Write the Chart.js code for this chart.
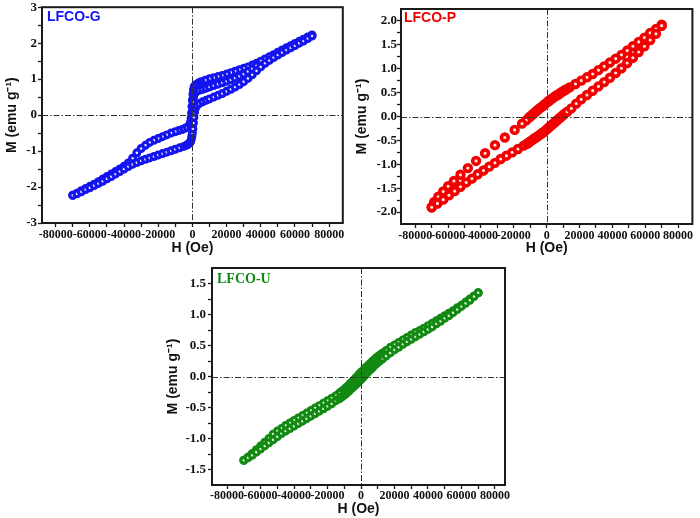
<!DOCTYPE html>
<html>
<head>
<meta charset="utf-8">
<script src="https://cdn.jsdelivr.net/npm/chart.js@4.4.0/dist/chart.umd.min.js"></script>
<style>
html, body { margin: 0; padding: 0; background: #fff; overflow: hidden; }
#wrap { position: relative; width: 700px; height: 518px; }
#wrap canvas { position: absolute; }
</style>
</head>
<body>
<div id="wrap">
  <canvas id="chartG" width="350" height="258" style="left:0;top:0;width:350px;height:258px"></canvas>
  <canvas id="chartP" width="350" height="258" style="left:350px;top:0;width:350px;height:258px"></canvas>
  <canvas id="chartU" width="380" height="260" style="left:160px;top:258px;width:380px;height:260px"></canvas>
</div>
<script>
'use strict';

// ---- tick values / labels ----
var hTicksMajor = [-80000, -60000, -40000, -20000, 0, 20000, 40000, 60000, 80000];
var hTicksMinor = [-70000, -50000, -30000, -10000, 10000, 30000, 50000, 70000];
var mTicksMajorG = [-3, -2, -1, 0, 1, 2, 3];
var mTicksMinorG = [-2.5, -1.5, -0.5, 0.5, 1.5, 2.5];
var mTicksMajorP = [-2.0, -1.5, -1.0, -0.5, 0.0, 0.5, 1.0, 1.5, 2.0];
var mTicksMinorP = [-1.75, -1.25, -0.75, -0.25, 0.25, 0.75, 1.25, 1.75];
var mTicksMajorU = [-1.5, -1.0, -0.5, 0.0, 0.5, 1.0, 1.5];
var mTicksMinorU = [-1.25, -0.75, -0.25, 0.25, 0.75, 1.25];

// ---- LFCO-G (blue) ----
var fieldG_down = [70000, 67500, 65000, 62500, 60000, 57500, 55000, 52500, 50000, 47500, 45000, 42500, 40000, 37500, 35000, 32500, 30000, 27500, 25000, 22500, 20000, 17500, 15000, 12500, 10000, 7500, 5000, 3500, 2500, 1500, 1000, 600, 300, 0, -250, -500, -750, -1000, -1500, -2500, -4000, -6000, -8000, -10000, -12500, -15000, -17500, -20000, -22500, -25000, -27500, -30000, -32500, -35000, -37500, -40000, -42500, -45000, -47500, -50000, -52500, -55000, -57500, -60000, -62500, -65000, -67500, -70000];
var momentG_down = [2.23, 2.17, 2.11, 2.05, 1.99, 1.93, 1.87, 1.81, 1.75, 1.68, 1.62, 1.56, 1.50, 1.44, 1.39, 1.34, 1.30, 1.26, 1.22, 1.18, 1.14, 1.10, 1.07, 1.04, 1.01, 0.97, 0.93, 0.89, 0.86, 0.82, 0.78, 0.70, 0.58, 0.42, 0.24, 0.06, -0.08, -0.18, -0.26, -0.32, -0.36, -0.40, -0.43, -0.46, -0.50, -0.55, -0.60, -0.65, -0.70, -0.76, -0.84, -0.93, -1.05, -1.20, -1.33, -1.42, -1.50, -1.57, -1.64, -1.71, -1.78, -1.85, -1.92, -1.98, -2.04, -2.10, -2.17, -2.23];
var fieldG_up = [-70000, -67500, -65000, -62500, -60000, -57500, -55000, -52500, -50000, -47500, -45000, -42500, -40000, -37500, -35000, -32500, -30000, -27500, -25000, -22500, -20000, -17500, -15000, -12500, -10000, -7500, -5000, -3500, -2500, -1500, -1000, -600, -300, 0, 300, 600, 900, 1200, 1600, 2500, 4000, 6000, 8000, 10000, 12500, 15000, 17500, 20000, 22500, 25000, 27500, 30000, 32500, 35000, 37500, 40000, 42500, 45000, 47500, 50000, 52500, 55000, 57500, 60000, 62500, 65000, 67500, 70000];
var momentG_up = [-2.23, -2.19, -2.13, -2.07, -2.02, -1.96, -1.90, -1.84, -1.77, -1.71, -1.64, -1.57, -1.50, -1.43, -1.37, -1.32, -1.27, -1.23, -1.19, -1.15, -1.11, -1.07, -1.03, -0.99, -0.95, -0.91, -0.87, -0.84, -0.81, -0.77, -0.73, -0.66, -0.58, -0.50, -0.38, -0.22, -0.06, 0.08, 0.18, 0.26, 0.32, 0.37, 0.41, 0.45, 0.50, 0.55, 0.60, 0.66, 0.72, 0.78, 0.85, 0.93, 1.02, 1.12, 1.23, 1.34, 1.44, 1.52, 1.60, 1.67, 1.74, 1.81, 1.87, 1.93, 2.00, 2.06, 2.13, 2.20];
var fieldG_virgin = [0, 200, 400, 700, 1000, 1500, 2500, 4000, 6000, 8000, 10000, 12500, 15000, 17500, 20000, 22500, 25000, 27500, 30000, 32500, 35000, 37500];
var momentG_virgin = [0.00, 0.18, 0.36, 0.50, 0.57, 0.62, 0.66, 0.69, 0.72, 0.75, 0.78, 0.82, 0.86, 0.90, 0.94, 0.98, 1.03, 1.08, 1.14, 1.21, 1.29, 1.37];

// ---- LFCO-P (red) ----
var fieldP_down = [70000, 66500, 63000, 59500, 56000, 52500, 49000, 45500, 42000, 38500, 35000, 31500, 28000, 24500, 21000, 17500, 14000, 12000, 11000, 10000, 9000, 8000, 7000, 6000, 5000, 4000, 3000, 2000, 1000, 0, -1000, -2000, -3000, -4000, -5000, -6000, -7000, -8000, -9000, -10000, -11000, -12500, -15000, -19500, -25500, -31500, -37500, -43000, -48000, -52500, -56500, -60000, -63000, -66000, -68500, -70000];
var momentP_down = [1.92, 1.83, 1.75, 1.65, 1.56, 1.47, 1.38, 1.29, 1.21, 1.13, 1.05, 0.97, 0.89, 0.82, 0.75, 0.68, 0.61, 0.57, 0.55, 0.53, 0.51, 0.48, 0.46, 0.44, 0.42, 0.39, 0.37, 0.34, 0.32, 0.29, 0.26, 0.23, 0.20, 0.18, 0.15, 0.12, 0.09, 0.06, 0.03, 0.00, -0.03, -0.08, -0.15, -0.28, -0.44, -0.60, -0.77, -0.93, -1.08, -1.22, -1.35, -1.46, -1.57, -1.68, -1.79, -1.90];
var fieldP_up = [-70000, -66500, -63000, -59500, -56000, -52500, -49000, -45500, -42000, -38500, -35000, -31500, -28000, -24500, -21000, -17500, -14000, -12000, -11000, -10000, -9000, -8000, -7000, -6000, -5000, -4000, -3000, -2000, -1000, 0, 1000, 2000, 3000, 4000, 5000, 6000, 7000, 8000, 9000, 10000, 11000, 12500, 15000, 18000, 21000, 24500, 28000, 31500, 35000, 38500, 42000, 45500, 49000, 52500, 56000, 59500, 63000, 66500, 70000];
var momentP_up = [-1.90, -1.82, -1.74, -1.65, -1.56, -1.47, -1.38, -1.30, -1.21, -1.13, -1.05, -0.97, -0.89, -0.82, -0.75, -0.68, -0.61, -0.57, -0.55, -0.52, -0.50, -0.47, -0.45, -0.43, -0.40, -0.38, -0.35, -0.33, -0.30, -0.27, -0.24, -0.21, -0.18, -0.15, -0.12, -0.09, -0.06, -0.03, 0.00, 0.03, 0.06, 0.10, 0.17, 0.27, 0.36, 0.45, 0.54, 0.63, 0.72, 0.81, 0.91, 1.01, 1.12, 1.23, 1.35, 1.47, 1.60, 1.73, 1.90];

// ---- LFCO-U (green) ----
var fieldU_down = [70000, 67500, 65000, 62500, 60000, 57500, 55000, 52500, 50000, 47500, 45000, 42500, 40000, 37500, 35000, 32500, 30000, 27500, 25000, 22500, 20000, 17500, 15000, 13000, 12000, 11000, 10000, 9000, 8000, 7000, 6000, 5000, 4000, 3000, 2000, 1000, 0, -1000, -2000, -3000, -4000, -5000, -6000, -7000, -8000, -9000, -10000, -11000, -12000, -13000, -15000, -17500, -20000, -22500, -25000, -27500, -30000, -32500, -35000, -37500, -40000, -42500, -45000, -47500, -50000, -52500, -55000, -57500, -60000, -62500, -65000, -67500, -70000];
var momentU_down = [1.35, 1.30, 1.25, 1.20, 1.15, 1.11, 1.06, 1.02, 0.98, 0.94, 0.90, 0.86, 0.82, 0.78, 0.74, 0.71, 0.67, 0.63, 0.59, 0.55, 0.51, 0.47, 0.42, 0.38, 0.36, 0.34, 0.32, 0.30, 0.27, 0.25, 0.22, 0.20, 0.17, 0.15, 0.12, 0.09, 0.07, 0.04, 0.01, -0.02, -0.05, -0.08, -0.10, -0.13, -0.16, -0.18, -0.21, -0.23, -0.25, -0.27, -0.31, -0.35, -0.39, -0.43, -0.47, -0.51, -0.55, -0.59, -0.63, -0.67, -0.71, -0.75, -0.79, -0.84, -0.88, -0.93, -1.00, -1.06, -1.12, -1.18, -1.24, -1.30, -1.35];
var fieldU_up = [-70000, -67500, -65000, -62500, -60000, -57500, -55000, -52500, -50000, -47500, -45000, -42500, -40000, -37500, -35000, -32500, -30000, -27500, -25000, -22500, -20000, -17500, -15000, -13000, -12000, -11000, -10000, -9000, -8000, -7000, -6000, -5000, -4000, -3000, -2000, -1000, 0, 1000, 2000, 3000, 4000, 5000, 6000, 7000, 8000, 9000, 10000, 11000, 12000, 13000, 15000, 17500, 20000, 22500, 25000, 27500, 30000, 32500, 35000, 37500, 40000, 42500, 45000, 47500, 50000, 52500, 55000, 57500, 60000, 62500, 65000, 67500, 70000];
var momentU_up = [-1.35, -1.31, -1.27, -1.22, -1.17, -1.12, -1.07, -1.02, -0.97, -0.92, -0.88, -0.84, -0.80, -0.76, -0.72, -0.68, -0.64, -0.60, -0.56, -0.52, -0.48, -0.44, -0.39, -0.36, -0.34, -0.32, -0.30, -0.28, -0.25, -0.23, -0.20, -0.18, -0.15, -0.13, -0.10, -0.07, -0.05, -0.02, 0.01, 0.04, 0.07, 0.10, 0.12, 0.15, 0.18, 0.20, 0.23, 0.25, 0.27, 0.29, 0.33, 0.38, 0.43, 0.47, 0.52, 0.56, 0.60, 0.64, 0.68, 0.72, 0.76, 0.80, 0.85, 0.89, 0.94, 0.98, 1.03, 1.08, 1.13, 1.18, 1.23, 1.29, 1.35];

var SERIF = '"Times New Roman", "Liberation Serif", serif';
var SANS = 'Arial, "Liberation Sans", sans-serif';

function toPoints(hs, ms) {
    var pts = [];
    for (var i = 0; i < hs.length; ++i) {
        pts.push({ x: hs[i], y: ms[i] });
    }
    return pts;
}

function tickList(major, minor) {
    return major.concat(minor).sort(function (a, b) { return a - b; }).map(function (v) { return { value: v }; });
}

// zero lines, frame and sample name
var decorPlugin = {
    id: 'decor',
    afterDatasetsDraw: function (chart, args, opts) {
        var ctx = chart.ctx, area = chart.chartArea;
        var x0 = Math.round(chart.scales.x.getPixelForValue(0)) + 0.5;
        var y0 = Math.round(chart.scales.y.getPixelForValue(0)) + 0.5;
        ctx.save();
        ctx.strokeStyle = '#333';
        ctx.lineWidth = 1;
        ctx.setLineDash([6, 2, 1.5, 2]);
        ctx.beginPath();
        ctx.moveTo(area.left, y0);
        ctx.lineTo(area.right, y0);
        ctx.moveTo(x0, area.top);
        ctx.lineTo(x0, area.bottom);
        ctx.stroke();
        ctx.setLineDash([]);
        ctx.lineWidth = 2;
        ctx.strokeStyle = '#1a1a1a';
        ctx.strokeRect(area.left, area.top, area.right - area.left, area.bottom - area.top);
        ctx.fillStyle = opts.color;
        ctx.font = opts.font;
        ctx.textBaseline = 'middle';
        ctx.fillText(opts.label, area.left + opts.dx, area.top + opts.dy);
        ctx.restore();
    }
};

function makePanel(canvasId, spec) {
    var cw = spec.width, ch = spec.height;
    var datasets = spec.branches.map(function (b) {
        return {
            data: toPoints(b[0], b[1]),
            pointStyle: 'circle',
            pointRadius: spec.radius,
            pointBorderWidth: spec.ring,
            pointBorderColor: spec.color,
            pointBackgroundColor: spec.fill,
            showLine: false
        };
    });
    var yDec = spec.yDecimals;
    return new Chart(document.getElementById(canvasId).getContext('2d'), {
        type: 'scatter',
        data: { datasets: datasets },
        plugins: [decorPlugin],
        options: {
            responsive: false,
            animation: false,
            events: [],
            layout: { padding: { left: 0, top: spec.top, right: cw - spec.right, bottom: 0 } },
            plugins: {
                legend: { display: false },
                tooltip: { enabled: false },
                decor: { label: spec.label, color: spec.color, font: spec.labelFont, dx: spec.labelDx, dy: spec.labelDy }
            },
            scales: {
                x: {
                    type: 'linear',
                    min: spec.xMin,
                    max: spec.xMax,
                    afterBuildTicks: function (s) { s.ticks = tickList(hTicksMajor, hTicksMinor); },
                    afterFit: function (s) { s.height = ch - spec.bottom; s.paddingLeft = 0; s.paddingRight = 0; },
                    border: { display: false },
                    grid: { drawOnChartArea: false, drawTicks: true, tickLength: 4, tickWidth: 1.3, tickColor: '#1a1a1a' },
                    ticks: {
                        autoSkip: false, maxRotation: 0, minRotation: 0, padding: spec.xTickPad, color: '#111',
                        font: { family: SERIF, weight: 'bold', size: 12 },
                        callback: function (v) { return hTicksMajor.indexOf(v) >= 0 ? String(v) : ''; }
                    },
                    title: {
                        display: true, text: 'H (Oe)', color: '#111',
                        font: { family: SANS, weight: 'bold', size: spec.titleSize },
                        padding: { top: 0, bottom: spec.xTitlePad }
                    }
                },
                y: {
                    type: 'linear',
                    min: spec.yMin,
                    max: spec.yMax,
                    afterBuildTicks: function (s) { s.ticks = tickList(spec.yMajor, spec.yMinor); },
                    afterFit: function (s) { s.width = spec.left; s.paddingTop = 0; s.paddingBottom = 0; },
                    border: { display: false },
                    grid: { drawOnChartArea: false, drawTicks: true, tickLength: 4, tickWidth: 1.3, tickColor: '#1a1a1a' },
                    ticks: {
                        autoSkip: false, padding: spec.yTickPad, color: '#111',
                        font: { family: SERIF, weight: 'bold', size: 13 },
                        callback: function (v) { return spec.yMajor.indexOf(v) >= 0 ? v.toFixed(yDec) : ''; }
                    },
                    title: {
                        display: true, text: 'M (emu g\u207B\u00B9)', color: '#111',
                        font: { family: SANS, weight: 'bold', size: spec.titleSize },
                        padding: { top: spec.yTitlePad, bottom: 0 }
                    }
                }
            }
        }
    });
}

makePanel('chartG', {
    width: 350, height: 258, left: 42, right: 347, top: 5, bottom: 223,
    xMin: -88000, xMax: 88000, yMin: -3, yMax: 3,
    yMajor: mTicksMajorG, yMinor: mTicksMinorG, yDecimals: 0,
    xTickPad: 1, yTickPad: 1, xTitlePad: 1, yTitlePad: 4, titleSize: 14,
    color: '#1414ee', fill: '#e4e4ff', radius: 2.9, ring: 3.2,
    label: 'LFCO-G', labelFont: 'bold 14px ' + SANS, labelDx: 5, labelDy: 10,
    branches: [[fieldG_up, momentG_up], [fieldG_virgin, momentG_virgin], [fieldG_down, momentG_down]]
});

makePanel('chartP', {
    width: 350, height: 258, left: 51, right: 347, top: 9, bottom: 224,
    xMin: -88700, xMax: 88700, yMin: -2.25, yMax: 2.25,
    yMajor: mTicksMajorP, yMinor: mTicksMinorP, yDecimals: 1,
    xTickPad: 1, yTickPad: 0, xTitlePad: 1, yTitlePad: 4, titleSize: 14,
    color: '#f20000', fill: '#ffe0e0', radius: 3.4, ring: 3.6,
    label: 'LFCO-P', labelFont: 'bold 14px ' + SANS, labelDx: 3, labelDy: 9,
    branches: [[fieldP_up, momentP_up], [fieldP_down, momentP_down]]
});

makePanel('chartU', {
    width: 380, height: 260, left: 52, right: 345, top: 10, bottom: 227,
    xMin: -89000, xMax: 86000, yMin: -1.75, yMax: 1.75,
    yMajor: mTicksMajorU, yMinor: mTicksMinorU, yDecimals: 1,
    xTickPad: 0, yTickPad: 2, xTitlePad: 0, yTitlePad: 5, titleSize: 14,
    color: '#128a12', fill: '#e0f4e0', radius: 2.9, ring: 3.2,
    label: 'LFCO-U', labelFont: 'bold 14px ' + SERIF, labelDx: 5, labelDy: 11,
    branches: [[fieldU_up, momentU_up], [fieldU_down, momentU_down]]
});
</script>
</body>
</html>
